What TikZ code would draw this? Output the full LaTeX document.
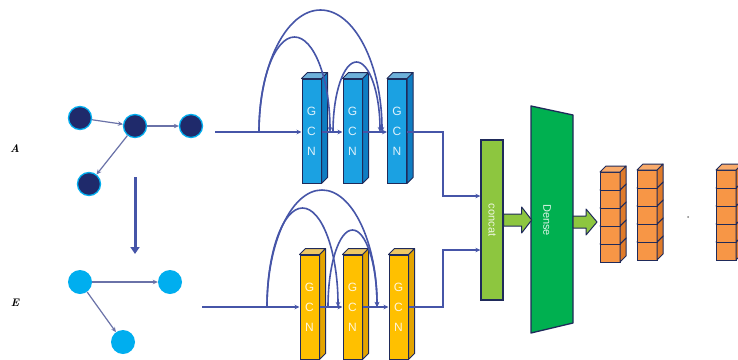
\documentclass[tikz,border=0pt]{standalone}
\usepackage{fontspec}
\setsansfont{Liberation Sans}
\usetikzlibrary{calc,arrows.meta}
\definecolor{navy}{HTML}{1F2A6B}
\definecolor{lineblue}{HTML}{4655A8}
\definecolor{edgegray}{HTML}{6A72A8}
\definecolor{skyb}{HTML}{00AEEF}
\definecolor{gcnblue}{HTML}{1BA1E2}
\definecolor{gcnblueside}{HTML}{0E7DC2}
\definecolor{gcnyel}{HTML}{FFC000}
\definecolor{gcnyelside}{HTML}{E3A400}
\definecolor{outl}{HTML}{1F2A5A}
\definecolor{concatg}{HTML}{8DC63F}
\definecolor{denseg}{HTML}{00B050}
\definecolor{cubeo}{HTML}{F79646}
\definecolor{cubeside}{HTML}{E07B2A}
\newcommand{\gblock}[5]{%
  \node[gcnface, fill=#4] (#1) at (#2,#3) {G\\C\\N};
  \filldraw[fill=#5, draw=outl, line width=1pt, line join=round]
    (#1.north east) -- ++(6,-6) -- ($(#1.south east)+(6,-6)$) -- (#1.south east) -- cycle;
  \filldraw[fill=#5!60!white, draw=outl, line width=1pt, line join=round]
    (#1.north west) -- ++(6,-6) -- ($(#1.north east)+(6,-6)$) -- (#1.north east) -- cycle;
}
\begin{document}
\begin{tikzpicture}[x=1pt,y=-1pt,
  darkdot/.style={circle, fill=navy, draw=skyb, line width=1.3pt, minimum size=23pt, inner sep=0pt},
  lightdot/.style={circle, fill=skyb, minimum size=24pt, inner sep=0pt},
  gedge/.style={draw=edgegray, line width=1.2pt, -{Stealth[length=5pt,width=4.5pt]}},
  main/.style={draw=lineblue, line width=1.5pt, -{Stealth[length=5pt,width=4.5pt]}},
  arcline/.style={draw=lineblue, line width=1.6pt, -{Stealth[length=5pt,width=4.5pt]}},
  gcnface/.style={draw=outl, line width=1pt, minimum width=19pt, minimum height=104pt, inner sep=0pt,
     align=center, text=white, text opacity=0.85, font=\sffamily\fontsize{12}{20}\selectfont},
  fat/.style={fill=concatg, draw=outl, line width=1pt, line join=round},
  lbl/.style={font=\bfseries\itshape\fontsize{11}{12}\selectfont}
]
\useasboundingbox (0,0) rectangle (738,359);
\fill[white] (0,0) rectangle (738,359);

% labels
\node[lbl] (labA) at (15,149) {A};
\node[lbl] (labE) at (15,303) {E};

% graph A
\node[darkdot] (a1) at (80,118) {};
\node[darkdot] (a2) at (135,126) {};
\node[darkdot] (a3) at (191,126) {};
\node[darkdot] (a4) at (89,184) {};
\draw[gedge] (a1) -- (a2);
\draw[gedge] (a2) -- (a3);
\draw[gedge] (a2) -- (a4);

% transform arrow
\coordinate (d1) at (135,177);
\coordinate (d2) at (135,254);
\draw[draw=lineblue, line width=3pt, -{Triangle[length=7pt,width=9pt]}] (d1) -- (d2);

% graph E
\node[lightdot] (e1) at (80,282) {};
\node[lightdot] (e2) at (170,282) {};
\node[lightdot] (e3) at (123,342) {};
\draw[gedge] (e1) -- (e2);
\draw[gedge] (e1) -- (e3);

% GCN blocks
\gblock{gA1}{311.5}{131}{gcnblue}{gcnblueside}
\gblock{gA2}{352.5}{131}{gcnblue}{gcnblueside}
\gblock{gA3}{397}{131}{gcnblue}{gcnblueside}
\gblock{gE1}{309.5}{307}{gcnyel}{gcnyelside}
\gblock{gE2}{352.5}{307}{gcnyel}{gcnyelside}
\gblock{gE3}{398.5}{307}{gcnyel}{gcnyelside}

% main lines top
\coordinate (sA) at (215,132);
\draw[main] (sA) -- (sA -| gA1.west);
\draw[main] (sA -| gA1.east) -- (sA -| gA2.west);
\draw[main] (sA -| gA2.east) -- (sA -| gA3.west);
% skip arcs top (half ellipses)
\coordinate (fA) at (259,132);
\coordinate (fA2) at (333,132);
\draw[arcline] (fA) arc[start angle=180, end angle=360, x radius=61.5, y radius=122] coordinate (eA2);
\draw[arcline] (fA) arc[start angle=180, end angle=360, x radius=35.5, y radius=95] coordinate (eA1);
\draw[arcline] (fA2) arc[start angle=180, end angle=360, x radius=23.5, y radius=70] coordinate (eA3);

% main lines bottom
\coordinate (sE) at (202,307);
\draw[main] (sE) -- (sE -| gE1.west);
\draw[main] (sE -| gE1.east) -- (sE -| gE2.west);
\draw[main] (sE -| gE2.east) -- (sE -| gE3.west);
\coordinate (fE) at (267,307);
\coordinate (fE2) at (328,307);
\draw[arcline] (fE) arc[start angle=180, end angle=360, x radius=55, y radius=117] coordinate (eE2);
\draw[arcline] (fE) arc[start angle=180, end angle=360, x radius=35.5, y radius=99] coordinate (eE1);
\draw[arcline] (fE2) arc[start angle=180, end angle=360, x radius=24.5, y radius=77] coordinate (eE3);

% concat
\node[draw=outl, fill=concatg, line width=1.3pt, minimum width=22pt, minimum height=160pt, inner sep=0pt] (concat) at (492,220) {};
\node[rotate=-90, text=white, text opacity=0.85, font=\sffamily\fontsize{11}{12}\selectfont] (concatlbl) at (concat.center) {concat};

\coordinate (jA) at (443,132);
\coordinate (inA) at (460,196);
\coordinate (jE) at (443,307);
\coordinate (inE) at (460,250);
\draw[main] (sA -| gA3.east) -- (jA) |- (concat.west |- inA);
\draw[main] (sE -| gE3.east) -- (jE) |- (concat.west |- inE);

% dense
\filldraw[fill=denseg, draw=outl, line width=1.3pt, line join=round]
  (531,106) -- (573,115) -- (573,323) -- (531,333) -- cycle;
\node[rotate=-90, text=white, text opacity=0.85, font=\sffamily\fontsize{11}{12}\selectfont] (dense) at (547,220) {Dense};
\coordinate (denseR) at (573,222);

% fat arrows
\filldraw[fat] ($(concat.east)+(0,-6)$) -- ++(18,0) -- ++(0,-7) -- ++(10,13) -- ++(-10,13) -- ++(0,-7) -- ++(-18,0) -- cycle;
\filldraw[fat] ($(denseR)+(0,-6)$) -- ++(13,0) -- ++(0,-7) -- ++(11,13) -- ++(-11,13) -- ++(0,-7) -- ++(-13,0) -- cycle;

% cubes
\foreach \cx/\cy in {600/172, 637/170, 716/170} {
  \foreach \i in {4,3,2,1,0} {
    \pgfmathsetmacro{\yy}{\cy+18*\i}
    \filldraw[fill=cubeo, draw=outl, line width=1pt] (\cx,\yy) rectangle ++(20,18);
    \filldraw[fill=cubeside, draw=outl, line width=1pt, line join=round] (\cx+20,\yy) -- ++(6,-6) -- ++(0,18) -- ++(-6,6) -- cycle;
    \filldraw[fill=cubeo!80!white, draw=outl, line width=1pt, line join=round] (\cx,\yy) -- ++(6,-6) -- ++(20,0) -- ++(-6,6) -- cycle;
  }
}
\node[circle, fill=gray, inner sep=0pt, minimum size=2pt] (dot) at (688,217) {};
\end{tikzpicture}
\end{document}
